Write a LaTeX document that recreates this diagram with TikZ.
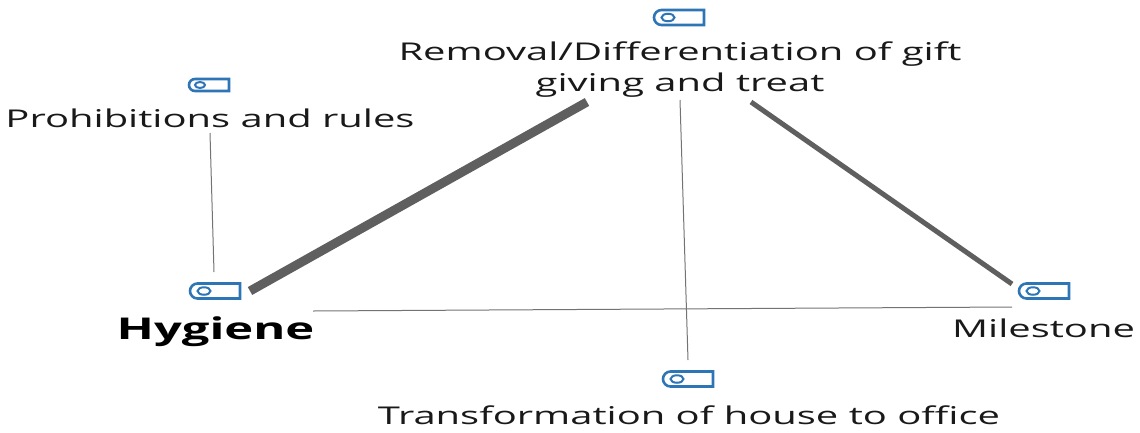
\documentclass[tikz,border=0pt]{standalone}
\usepackage{fontspec}
\setmainfont{Open Sans}
\usetikzlibrary{shapes.misc,shapes.geometric}
\definecolor{iconblue}{HTML}{2E75B6}
\definecolor{linegray}{HTML}{5F5F5F}
\tikzset{
  x=1pt,y=-1pt,
  tagicon/.style={draw=iconblue,line width=2.6pt,fill=white,rounded rectangle,rounded rectangle east arc=none,inner sep=0pt,minimum width=#1,minimum height=15pt},
  tagicon/.default=50pt,
  tagdot/.style={draw=iconblue,line width=2pt,ellipse,inner sep=0pt,minimum width=13pt,minimum height=7.5pt},
  lab/.style={inner sep=0pt,font=\fontsize{24.5}{30}\selectfont,align=center,text=black!90},
  thinline/.style={draw=black!55,line width=1pt},
  midline/.style={draw=linegray,line width=5pt},
  heavyline/.style={draw=linegray,line width=9pt},
}
\newcommand{\wide}[1]{\scalebox{1.63}[1]{#1}}
\begin{document}
\begin{tikzpicture}
\useasboundingbox (0,0) rectangle (1140,432);
% icons
\node[tagicon=50pt] (iTop) at (679,17.5) {};
\node[tagdot] (dTop) at (668,17.5) {};
\node[tagicon=40pt,minimum height=12pt] (iProh) at (209,85) {};
\node[tagdot,minimum width=10pt,minimum height=6pt] (dProh) at (200,85) {};
\node[tagicon=50pt] (iHyg) at (215,291) {};
\node[tagdot] (dHyg) at (204,291) {};
\node[tagicon=50pt] (iMile) at (1044,291) {};
\node[tagdot] (dMile) at (1033,291) {};
\node[tagicon=50pt] (iTrans) at (688,379) {};
\node[tagdot] (dTrans) at (677,379) {};
% labels
\node[lab] (lTop) at (680,70) {\wide{Removal/Differentiation of gift}\\[1pt]\wide{giving and treat}};
\node[lab] (lProh) at (210,118) {\wide{Prohibitions and rules}};
\node[lab,font=\fontsize{30}{30}\selectfont\bfseries,text=black] (lHyg) at (215.5,332) {\wide{Hygiene}};
\node[lab] (lMile) at (1043.5,328) {\wide{Milestone}};
\node[lab] (lTrans) at (689,415) {\wide{Transformation of house to office}};
% connector ends
\coordinate (a1) at (250,291);
\coordinate (a2) at (587,102);
\coordinate (b1) at (751,102);
\coordinate (b2) at (1012,284);
\coordinate (c1) at (210,133);
\coordinate (c2) at (214,272);
\coordinate (d1) at (680,100);
\coordinate (d2) at (688,360);
\coordinate (e1) at (313,311);
\coordinate (e2) at (1012,307);
\draw[heavyline] (a1) -- (a2);
\draw[midline] (b1) -- (b2);
\draw[thinline] (c1) -- (c2);
\draw[thinline] (d1) -- (d2);
\draw[thinline] (e1) -- (e2);
\end{tikzpicture}
\end{document}
